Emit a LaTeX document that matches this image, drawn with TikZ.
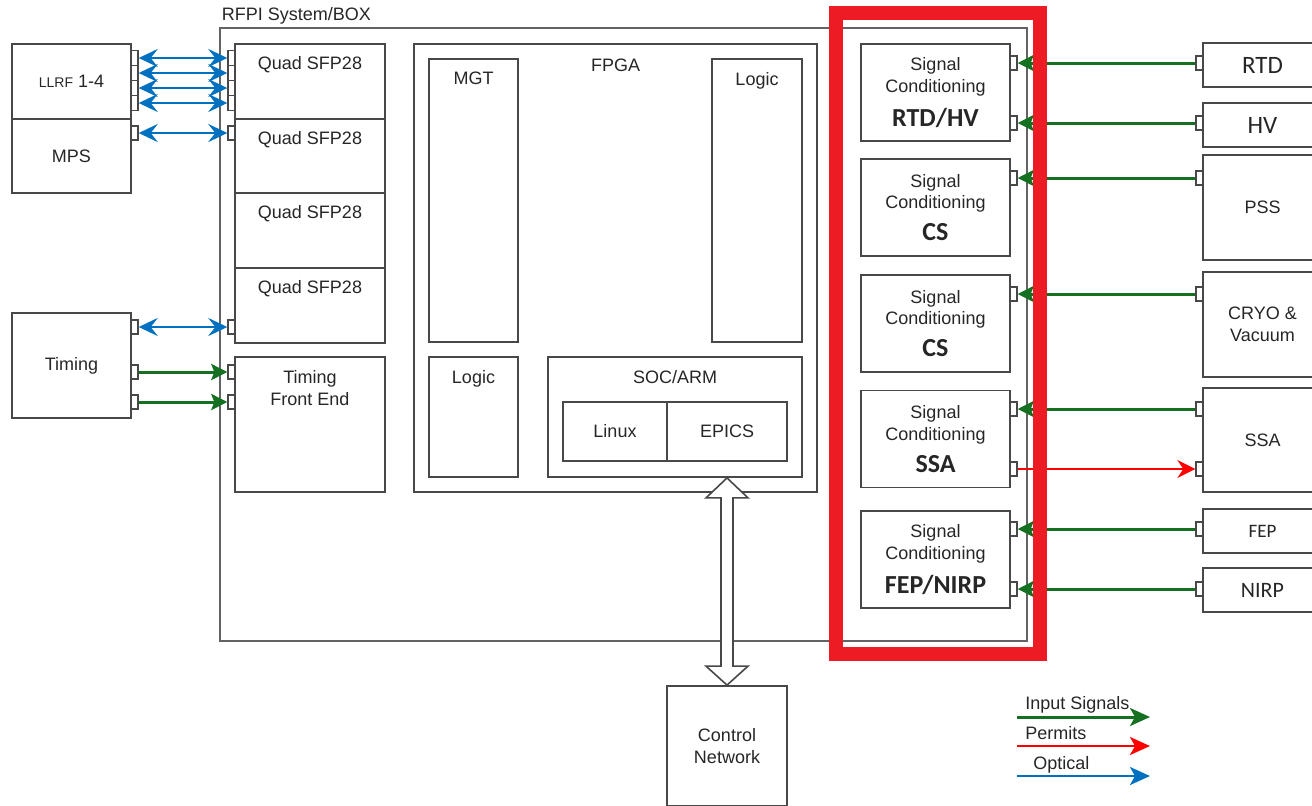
\documentclass[tikz,border=0pt]{standalone}
\usepackage{fontspec}
\setmainfont{Liberation Sans}
\newfontfamily\calib{Carlito}
\usetikzlibrary{arrows.meta, calc}

\definecolor{sigGreen}{RGB}{22,112,34}
\definecolor{optBlue}{RGB}{0,112,192}
\definecolor{hlRed}{RGB}{237,28,36}
\definecolor{permRed}{RGB}{255,0,0}
\definecolor{boxGray}{RGB}{72,72,72}

\tikzset{
  blk/.style={draw=boxGray, line width=0.9pt, inner sep=0pt, align=center,
    font=\fontsize{9}{10.8}\selectfont, text=black!85},
  txt/.style={inner sep=0pt, align=center, font=\fontsize{9}{10.8}\selectfont, text=black!85},
  port/.style={draw=boxGray, line width=0.7pt, fill=white, minimum width=3.5pt,
    minimum height=7pt, inner sep=0pt},
  sigcond/.style={blk, minimum width=74.5pt, minimum height=48.5pt},
  field/.style={blk, minimum width=59.5pt},
  optical/.style={draw=optBlue, line width=1.3pt,
    {Stealth[length=9.5pt,width=9pt,inset=3.5pt]}-{Stealth[length=9.5pt,width=9pt,inset=3.5pt]}},
  input/.style={draw=sigGreen, line width=1.5pt, -{Stealth[length=8pt,width=8pt,inset=1.5pt]}},
  permit/.style={draw=permRed, line width=0.8pt, -{Stealth[length=9pt,width=9pt,inset=3pt]}},
}

\newcommand{\sclabel}[1]{Signal\\Conditioning\\[5pt]{\calib\bfseries\fontsize{13}{14}\selectfont #1}}

\begin{document}
\begin{tikzpicture}[x=0.5pt, y=-0.5pt]
    \useasboundingbox (0,0) rectangle (1312,805);

    % System box
    \node[blk, draw=boxGray!85, line width=0.6pt, minimum width=403.5pt, minimum height=306.5pt] (sys) at (623.5,334.5) {};
    \node[txt, anchor=base west] (syslbl) at ([xshift=1pt,yshift=3.5pt]sys.north west) {RFPI System/BOX};

    % Left devices
    \node[blk, minimum width=59.5pt, minimum height=37.5pt] (llrf) at (71.5,81.5) {{\fontsize{7}{8}\selectfont LLRF} 1-4};
    \node[blk, minimum width=59.5pt, minimum height=37pt] (mps) at (71.5,156) {MPS};
    \node[blk, minimum width=59.5pt, minimum height=52.5pt] (timing) at (71.5,365.5) {Timing};

    % Transceivers
    \node[blk, minimum width=75pt, minimum height=37.5pt] (sfp1) at (310,81.5) {};
    \node[blk, minimum width=75pt, minimum height=37pt] (sfp2) at (310,156) {};
    \node[blk, minimum width=75pt, minimum height=37.5pt] (sfp3) at (310,230.5) {};
    \node[blk, minimum width=75pt, minimum height=37.5pt] (sfp4) at (310,305.5) {};
    \node[blk, minimum width=75pt, minimum height=67.5pt] (tfe) at (310,424.5) {};
    \foreach \n in {sfp1,sfp2,sfp3,sfp4}
        \node[txt, anchor=north] (\n-lbl) at ([yshift=-6.5pt]\n.north) {Quad SFP28};
    \node[txt, anchor=north] (tfe-lbl) at ([yshift=-7pt]tfe.north) {Timing\\Front End};

    % FPGA
    \node[blk, minimum width=201.5pt, minimum height=224pt] (fpga) at (615.5,268) {};
    \node[blk, minimum width=44.5pt, minimum height=141.5pt] (mgt) at (473.5,200.5) {};
    \node[blk, minimum width=45pt, minimum height=141.5pt] (logicA) at (757,200.5) {};
    \node[blk, minimum width=44.5pt, minimum height=60pt] (logicB) at (473.5,417) {};
    \node[blk, minimum width=127pt, minimum height=60pt] (soc) at (675,417) {};
    \node[blk, minimum width=52pt, minimum height=29.5pt] (linux) at (615,431.5) {Linux};
    \node[blk, minimum width=60pt, minimum height=29.5pt] (epics) at (727,431.5) {EPICS};
    \node[txt, anchor=north] (fpga-lbl) at ([yshift=-7.5pt]fpga.north) {FPGA};
    \node[txt, anchor=north] (mgt-lbl) at ([yshift=-6.5pt]mgt.north) {MGT};
    \node[txt, anchor=north] (logicA-lbl) at ([yshift=-7pt]logicA.north) {Logic};
    \node[txt, anchor=north] (logicB-lbl) at ([yshift=-7pt]logicB.north) {Logic};
    \node[txt, anchor=north] (soc-lbl) at ([yshift=-7pt]soc.north) {SOC/ARM};

    % Control network
    \node[blk, minimum width=60pt, minimum height=60pt] (ctrl) at (727,746) {Control\\Network};

    % Signal conditioning
    \node[sigcond] (sc1) at (935.5,92.5) {\sclabel{RTD/HV}};
    \node[sigcond] (sc2) at (935.5,207.5) {\sclabel{CS}};
    \node[sigcond] (sc3) at (935.5,323.5) {\sclabel{CS}};
    \node[sigcond] (sc4) at (935.5,439) {\sclabel{SSA}};
    \node[sigcond] (sc5) at (935.5,559.5) {\sclabel{FEP/NIRP}};

    % Field devices
    \node[field, minimum height=22pt] (rtd) at (1262.5,65) {\calib\fontsize{12.5}{14}\selectfont RTD};
    \node[field, minimum height=22pt] (hv) at (1262.5,125) {\calib\fontsize{12.5}{14}\selectfont HV};
    \node[field, minimum height=52.5pt] (pss) at (1262.5,207.5) {PSS};
    \node[field, minimum height=52.5pt] (cryo) at (1262.5,324.5) {CRYO \&\\Vacuum};
    \node[field, minimum height=52pt] (ssa) at (1262.5,440) {SSA};
    \node[field, minimum height=22pt] (fep) at (1262.5,531) {\calib\fontsize{9.5}{11}\selectfont FEP};
    \node[field, minimum height=22pt] (nirp) at (1262.5,590) {\calib\fontsize{11}{13}\selectfont NIRP};

    % Optical links
    \foreach \i/\y in {1/58,2/73,3/88,4/103} {
        \node[port, minimum height=7.5pt] (llrf-p\i) at (134.5,\y) {};
        \node[port, minimum height=7.5pt] (sfp1-p\i) at (231.5,\y) {};
        \draw[optical] (llrf-p\i) -- (sfp1-p\i);
    }
    \node[port] (mps-p) at (134.5,133) {};
    \node[port] (sfp2-p) at (231.5,133) {};
    \draw[optical] (mps-p) -- (sfp2-p);
    \node[port] (timing-p1) at (134.5,327) {};
    \node[port] (sfp4-p) at (231.5,327) {};
    \draw[optical] (timing-p1) -- (sfp4-p);

    % Timing inputs
    \node[port] (timing-p2) at (134.5,372) {};
    \node[port] (timing-p3) at (134.5,402) {};
    \node[port] (tfe-p1) at (231.5,372) {};
    \node[port] (tfe-p2) at (231.5,402) {};
    \draw[input] (timing-p2) -- (tfe-p1);
    \draw[input] (timing-p3) -- (tfe-p2);

    % Field inputs and permit
    \foreach \sc/\dev/\y in {sc1/rtd/63, sc1/hv/123, sc2/pss/178, sc3/cryo/294, sc4/ssa/409, sc5/fep/529, sc5/nirp/589} {
        \node[port] (\sc-p\y) at (1013.5,\y) {};
        \node[port] (\dev-p\y) at (1199.5,\y) {};
        \draw[input] (\dev-p\y) -- (\sc-p\y);
    }
    \node[port] (sc4-p469) at (1013.5,469) {};
    \node[port] (ssa-p469) at (1199.5,469) {};
    \draw[permit] (sc4-p469) -- (ssa-p469);

    % Network link
    \coordinate (nettop) at (soc.south -| ctrl.north);
    \draw[draw=boxGray, line width=0.8pt, fill=white, line join=miter] (nettop) -- ++(21,20) -- ++(-15,0)
        -- ($(ctrl.north)+(6,-19)$) -- ++(15,0) -- (ctrl.north) -- ++(-21,-19) -- ++(15,0)
        -- ($(nettop)+(-6,20)$) -- ++(-15,0) -- cycle;

    % Highlight
    \node[draw=hlRed, line width=7pt, minimum width=102pt, minimum height=320.5pt, inner sep=0pt] (hl) at (938,333.5) {};

    % Legend
    \coordinate (lg1a) at (1017,717);
    \coordinate (lg1b) at (1150,717);
    \coordinate (lg2a) at (1017,746);
    \coordinate (lg2b) at (1150,746);
    \coordinate (lg3a) at (1017,776);
    \coordinate (lg3b) at (1150,776);
    \draw[input, -{Stealth[length=10pt,width=9pt,inset=2.5pt]}] (lg1a) -- (lg1b);
    \draw[permit, line width=1.3pt, -{Stealth[length=10pt,width=9pt,inset=2.5pt]}] (lg2a) -- (lg2b);
    \draw[optical, line width=1.3pt, -{Stealth[length=10pt,width=9pt,inset=2.5pt]}] (lg3a) -- (lg3b);
    \node[txt, anchor=base west] (lg1t) at (1025,709) {Input Signals};
    \node[txt, anchor=base west] (lg2t) at (1025,739) {Permits};
    \node[txt, anchor=base west] (lg3t) at (1033,769) {Optical};
\end{tikzpicture}
\end{document}
